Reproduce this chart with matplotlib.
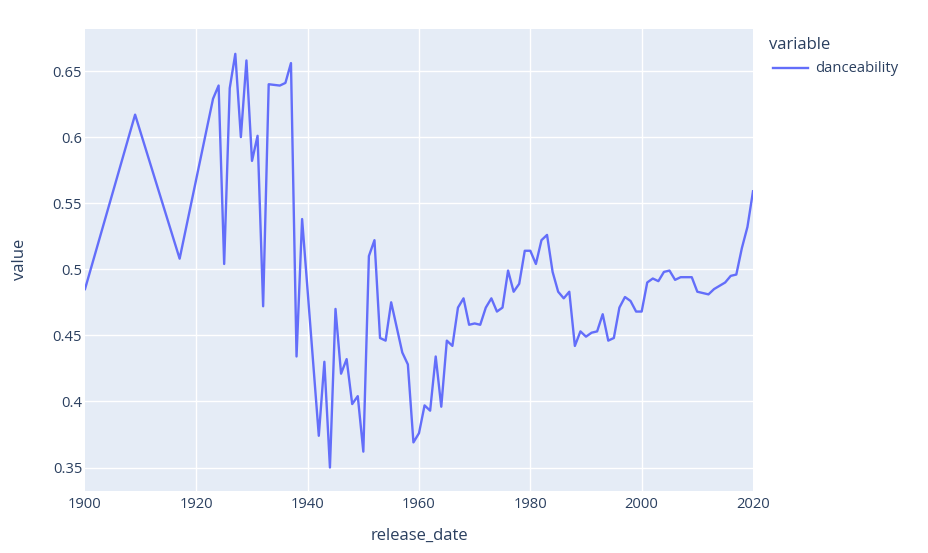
import matplotlib
matplotlib.use("Agg")
import matplotlib.pyplot as plt

years = [1900, 1909, 1917, 1923, 1924, 1925, 1926, 1927, 1928, 1929, 1930, 1931,
         1932, 1933, 1935, 1936, 1937, 1938, 1939, 1942, 1943, 1944, 1945, 1946,
         1947, 1948, 1949, 1950, 1951, 1952, 1953, 1954, 1955, 1957, 1958, 1959,
         1960, 1961, 1962, 1963, 1964, 1965, 1966, 1967, 1968, 1969, 1970, 1971,
         1972, 1973, 1974, 1975, 1976, 1977, 1978, 1979, 1980, 1981, 1982, 1983,
         1984, 1985, 1986, 1987, 1988, 1989, 1990, 1991, 1992, 1993, 1994, 1995,
         1996, 1997, 1998, 1999, 2000, 2001, 2002, 2003, 2004, 2005, 2006, 2007,
         2009, 2010, 2012, 2013, 2015, 2016, 2017, 2018, 2019, 2020]
danceability = [0.485, 0.617, 0.508, 0.629, 0.639, 0.504, 0.637, 0.663, 0.600, 0.658,
                0.582, 0.601, 0.472, 0.640, 0.639, 0.641, 0.656, 0.434, 0.538, 0.374,
                0.430, 0.350, 0.470, 0.421, 0.432, 0.398, 0.404, 0.362, 0.510, 0.522,
                0.448, 0.446, 0.475, 0.437, 0.428, 0.369, 0.376, 0.397, 0.393, 0.434,
                0.396, 0.446, 0.442, 0.471, 0.478, 0.458, 0.459, 0.458, 0.471, 0.478,
                0.468, 0.471, 0.499, 0.483, 0.489, 0.514, 0.514, 0.504, 0.522, 0.526,
                0.498, 0.483, 0.478, 0.483, 0.442, 0.453, 0.449, 0.452, 0.453, 0.466,
                0.446, 0.448, 0.471, 0.479, 0.476, 0.468, 0.468, 0.490, 0.493, 0.491,
                0.498, 0.499, 0.492, 0.494, 0.494, 0.483, 0.481, 0.485, 0.490, 0.495,
                0.496, 0.516, 0.532, 0.559]

x_ticks = [1900, 1920, 1940, 1960, 1980, 2000, 2020]
y_ticks = [0.35, 0.4, 0.45, 0.5, 0.55, 0.6, 0.65]
y_tick_labels = ["0.35", "0.4", "0.45", "0.5", "0.55", "0.6", "0.65"]

TXT = "#2a3f5f"
plt.rcParams['font.family'] = ['Open Sans', 'DejaVu Sans']

W, H = 929, 553
fig = plt.figure(figsize=(W / 100, H / 100), dpi=100)
left, right, top, bottom = 85, 753, 29, 490.5
ax = fig.add_axes([left / W, 1 - bottom / H, (right - left) / W, (bottom - top) / H])
ax.set_facecolor("#E5ECF6")

ax.plot(years, danceability, color="#636EFA", lw=1.7, solid_joinstyle="round", zorder=3)

ax.set_xlim(1900, 2020)
ax.set_ylim(0.3326, 0.6818)
ax.set_xticks(x_ticks)
ax.set_yticks(y_ticks)
ax.set_yticklabels(y_tick_labels)
ax.grid(True, color="white", lw=1.0, zorder=1)
ax.set_axisbelow(True)
gl = ax.xaxis.get_gridlines()
gl[0].set_visible(False)
gl[-1].set_visible(False)
for s in ax.spines.values():
    s.set_visible(False)
ax.tick_params(length=0, labelsize=10.6, colors=TXT)
ax.tick_params(axis='x', pad=4.5)
ax.tick_params(axis='y', pad=2)

fig.text(419 / W, 1 - 536 / H, "release_date", ha="center", va="center",
         fontsize=12, color=TXT)
fig.text(20 / W, 1 - 259.5 / H, "value", ha="center", va="center",
         rotation=90, fontsize=12, color=TXT)

# legend
fig.text(769 / W, 1 - 45 / H, "variable", ha="left", va="center", fontsize=12, color=TXT)
fig.lines.append(plt.Line2D([773 / W, 808 / W], [1 - 68 / H, 1 - 68 / H],
                            transform=fig.transFigure, color="#636EFA", lw=1.7))
fig.text(815 / W, 1 - 68 / H, "danceability", ha="left", va="center", fontsize=10.6, color=TXT)

fig.savefig("out.png", dpi=100, facecolor="white")
